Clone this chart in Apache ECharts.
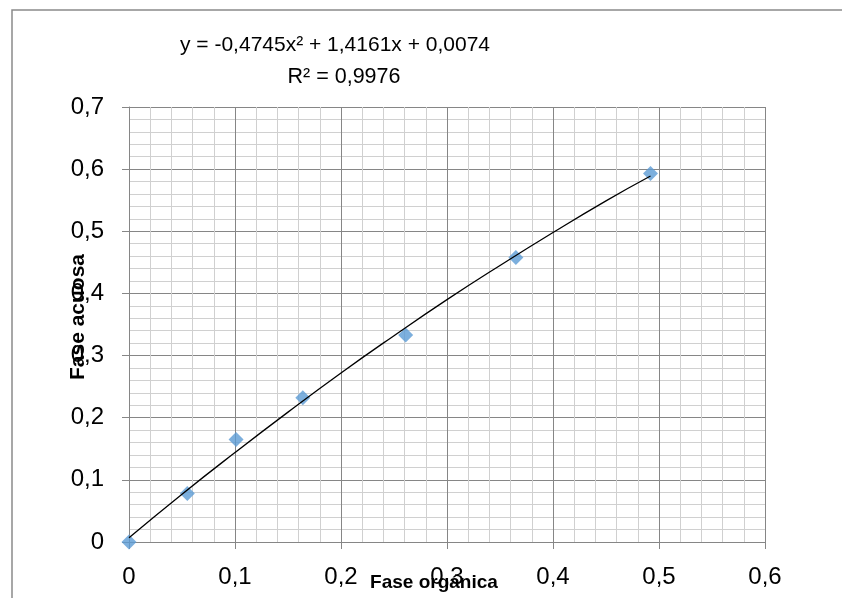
<!DOCTYPE html>
<html>
<head>
<meta charset="utf-8">
<script src="https://cdn.jsdelivr.net/npm/echarts@6/dist/echarts.min.js"></script>
<style>
  html, body { margin: 0; padding: 0; background: #fff; }
  #chart { width: 842px; height: 598px; }
</style>
</head>
<body>
<div id="chart"></div>
<script>
// measured points (fase orgánica, fase acuosa)
const faseOrganica = [0, 0.055, 0.101, 0.164, 0.261, 0.365, 0.492]
const faseAcuosa = [0, 0.078, 0.165, 0.232, 0.333, 0.458, 0.593]

// trendline
const trendX = [0, 0.05, 0.1, 0.15, 0.2, 0.25, 0.3, 0.35, 0.4, 0.45, 0.492]
const trendY = [0.007, 0.077, 0.144, 0.209, 0.272, 0.332, 0.39, 0.445, 0.498, 0.549, 0.589]

const equation = 'y = -0,4745x² + 1,4161x + 0,0074'
const rSquared = 'R² = 0,9976'
const xTitle = 'Fase orgánica'
const yTitle = 'Fase acuosa'

const font = '"Liberation Sans", Arial, sans-serif'
const comma = v => String(+v.toFixed(2)).replace('.', ',')

const chart = echarts.init(document.getElementById('chart'), null, { renderer: 'canvas' })

const axisCommon = {
  type: 'value',
  min: 0,
  interval: 0.1,
  axisLine: { show: true, lineStyle: { color: '#868686', width: 1 } },
  axisTick: { show: true, length: 7, lineStyle: { color: '#868686' } },
  axisLabel: { fontFamily: font, fontSize: 24, color: '#000', formatter: comma },
  splitLine: { show: true, lineStyle: { color: '#868686', width: 1 } },
  minorTick: { show: false, splitNumber: 5 },
  minorSplitLine: { show: true, lineStyle: { color: '#d0d0d0', width: 1 } }
}

chart.setOption({
  animation: false,
  grid: { left: 129, right: 77, top: 107, bottom: 56, containLabel: false, outerBoundsMode: 'none' },
  xAxis: Object.assign({}, axisCommon, {
    max: 0.6,
    axisLabel: Object.assign({}, axisCommon.axisLabel, { margin: 23 })
  }),
  yAxis: Object.assign({}, axisCommon, {
    max: 0.7,
    axisLabel: Object.assign({}, axisCommon.axisLabel, { margin: 25 })
  }),
  graphic: [
    {
      type: 'rect',
      shape: { x: 12, y: 10, width: 900, height: 700 },
      style: { fill: 'none', stroke: '#8a8a8a', lineWidth: 1.5 },
      silent: true
    },
    {
      type: 'text', x: 335, y: 45,
      style: { text: equation, font: '21px ' + font, fill: '#000', align: 'center', verticalAlign: 'middle' }
    },
    {
      type: 'text', x: 344, y: 77,
      style: { text: rSquared, font: '21.5px ' + font, fill: '#000', align: 'center', verticalAlign: 'middle' }
    },
    {
      type: 'text', x: 434, y: 583, z: 10,
      style: { text: xTitle, font: 'bold 19px ' + font, fill: '#000', align: 'center', verticalAlign: 'middle' }
    },
    {
      type: 'text', x: 78, y: 317, rotation: Math.PI / 2, z: 10,
      style: { text: yTitle, font: 'bold 21px ' + font, fill: '#000', align: 'center', verticalAlign: 'middle' }
    }
  ],
  series: [
    {
      type: 'line',
      data: trendX.map((x, i) => [x, trendY[i]]),
      smooth: true,
      showSymbol: false,
      lineStyle: { color: '#000', width: 1.3 },
      z: 3
    },
    {
      type: 'scatter',
      data: faseOrganica.map((x, i) => [x, faseAcuosa[i]]),
      symbol: 'diamond',
      symbolSize: 15,
      itemStyle: { color: '#5b9bd5' },
      z: 2
    }
  ]
})
</script>
</body>
</html>
